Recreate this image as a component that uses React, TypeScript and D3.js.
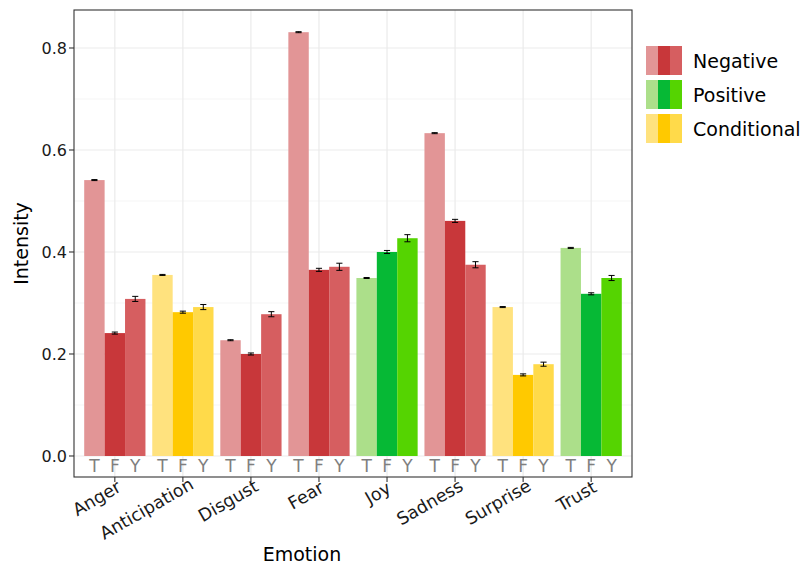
import React from 'react';
import * as d3 from 'd3';

const emotions = ['Anger', 'Anticipation', 'Disgust', 'Fear', 'Joy', 'Sadness', 'Surprise', 'Trust'];
const sources = ['T', 'F', 'Y'];
const groupOf = ['Negative', 'Conditional', 'Negative', 'Negative', 'Positive', 'Negative', 'Conditional', 'Positive'];

const valuesT = [0.541, 0.355, 0.227, 0.831, 0.349, 0.633, 0.292, 0.408];
const valuesF = [0.241, 0.282, 0.200, 0.365, 0.400, 0.461, 0.159, 0.318];
const valuesY = [0.308, 0.292, 0.278, 0.371, 0.427, 0.375, 0.180, 0.349];
const errT = [0.001, 0.001, 0.001, 0.001, 0.001, 0.001, 0.001, 0.001];
const errF = [0.002, 0.002, 0.002, 0.003, 0.003, 0.003, 0.002, 0.002];
const errY = [0.005, 0.005, 0.005, 0.007, 0.007, 0.006, 0.004, 0.005];

const legendGroups = ['Negative', 'Positive', 'Conditional'];
const palette: Record<string, string[]> = {
  Negative: ['#e29596', '#c8373a', '#d65e60'],
  Positive: ['#acdf8a', '#06b935', '#55d401'],
  Conditional: ['#ffe27e', '#ffc900', '#ffda4a'],
};
const yTicks = [0, 0.2, 0.4, 0.6, 0.8];
const yMinor = [0.1, 0.3, 0.5, 0.7];

const W = 806;
const H = 569;
const panel = { left: 74, right: 632, top: 10, bottom: 477 };
const font = 'DejaVu Sans, sans-serif';
const xLabSize = 17.5;

// measure label width so we can mimic ggplot's hjust on rotated text
function textWidth(s: string, size: number) {
  const ctx = document.createElement('canvas').getContext('2d');
  if (!ctx) return s.length * size * 0.6;
  ctx.font = `${size}px DejaVu Sans`;
  return ctx.measureText(s).width;
}

export default function App() {
  // ggplot-style discrete axis: 0.6 units of expansion on each side
  const cx = d3.scalePoint().domain(emotions).range([panel.left, panel.right]).padding(0.6);
  const dodge = cx.step() * 0.9;
  const bx = d3.scaleBand().domain(sources).range([-dodge / 2, dodge / 2]);
  const y = d3.scaleLinear().domain([-0.0412, 0.8745]).range([panel.bottom, panel.top]);

  const rows = emotions.flatMap((e, i) => [
    { e, s: 'T', v: valuesT[i], err: errT[i], col: palette[groupOf[i]][0] },
    { e, s: 'F', v: valuesF[i], err: errF[i], col: palette[groupOf[i]][1] },
    { e, s: 'Y', v: valuesY[i], err: errY[i], col: palette[groupOf[i]][2] },
  ]);
  const bxc = (r: { e: string; s: string }) => (cx(r.e) as number) + (bx(r.s) as number) + bx.bandwidth() / 2;

  return (
    <svg width={W} height={H} style={{ position: 'absolute', left: 0, top: 0 }} fontFamily={font}>
      <rect width={W} height={H} fill="#fff" />
      {/* grid */}
      {yMinor.map(t => (
        <line key={'m' + t} x1={panel.left} x2={panel.right} y1={y(t)} y2={y(t)} stroke="#f2f2f2" strokeWidth={0.8} />
      ))}
      {yTicks.map(t => (
        <line key={'g' + t} x1={panel.left} x2={panel.right} y1={y(t)} y2={y(t)} stroke="#ebebeb" strokeWidth={1.2} />
      ))}
      {emotions.map(e => (
        <line key={'v' + e} x1={cx(e)} x2={cx(e)} y1={panel.top} y2={panel.bottom} stroke="#ebebeb" strokeWidth={1.2} />
      ))}
      {/* bars */}
      {rows.map(r => (
        <rect key={r.e + r.s} x={(cx(r.e) as number) + (bx(r.s) as number)} width={bx.bandwidth()}
          y={y(r.v)} height={y(0) - y(r.v)} fill={r.col} />
      ))}
      {/* error bars */}
      {rows.map(r => {
        const c = bxc(r);
        const hw = bx.bandwidth() * 0.15;
        return (
          <g key={'e' + r.e + r.s} stroke="#000" strokeWidth={1}>
            <line x1={c} x2={c} y1={y(r.v + r.err)} y2={y(r.v - r.err)} />
            <line x1={c - hw} x2={c + hw} y1={y(r.v + r.err)} y2={y(r.v + r.err)} />
            <line x1={c - hw} x2={c + hw} y1={y(r.v - r.err)} y2={y(r.v - r.err)} />
          </g>
        );
      })}
      {/* T F Y labels */}
      {rows.map(r => (
        <text key={'l' + r.e + r.s} x={bxc(r)} y={472}
          textAnchor="middle" fontSize={17} fill="#7f7f7f">{r.s}</text>
      ))}
      {/* border */}
      <rect x={panel.left} y={panel.top} width={panel.right - panel.left} height={panel.bottom - panel.top}
        fill="none" stroke="#333" strokeWidth={1.1} />
      {/* y axis */}
      {yTicks.map(t => (
        <g key={'yt' + t}>
          <line x1={panel.left - 5} x2={panel.left} y1={y(t)} y2={y(t)} stroke="#333" strokeWidth={1.1} />
          <text x={panel.left - 7} y={y(t)} dy="0.36em" textAnchor="end" fontSize={16} fill="#1a1a1a">{t.toFixed(1)}</text>
        </g>
      ))}
      {/* x axis */}
      {emotions.map(e => {
        const shift = 0.1 * textWidth(e, xLabSize);
        return (
          <g key={'xt' + e}>
            <line x1={cx(e)} x2={cx(e)} y1={panel.bottom} y2={panel.bottom + 5} stroke="#333" strokeWidth={1.1} />
            <text transform={`translate(${(cx(e) as number) + 3},${493}) rotate(-30)`} textAnchor="end"
              dx={shift} fontSize={xLabSize} fill="#1a1a1a">{e}</text>
          </g>
        );
      })}
      <text x={302} y={561} textAnchor="middle" fontSize={19} fill="#000">Emotion</text>
      <text transform={`translate(28,${(panel.top + panel.bottom) / 2}) rotate(-90)`} textAnchor="middle"
        fontSize={19} fill="#000">Intensity</text>
      {/* legend */}
      {legendGroups.map((g, i) => (
        <g key={'lg' + g} transform={`translate(646,${46 + i * 34})`}>
          {palette[g].map((c, j) => (
            <rect key={c} x={j * 12} y={0} width={12} height={29} fill={c} />
          ))}
          <text x={47} y={22} fontSize={19} fill="#000">{g}</text>
        </g>
      ))}
    </svg>
  );
}
